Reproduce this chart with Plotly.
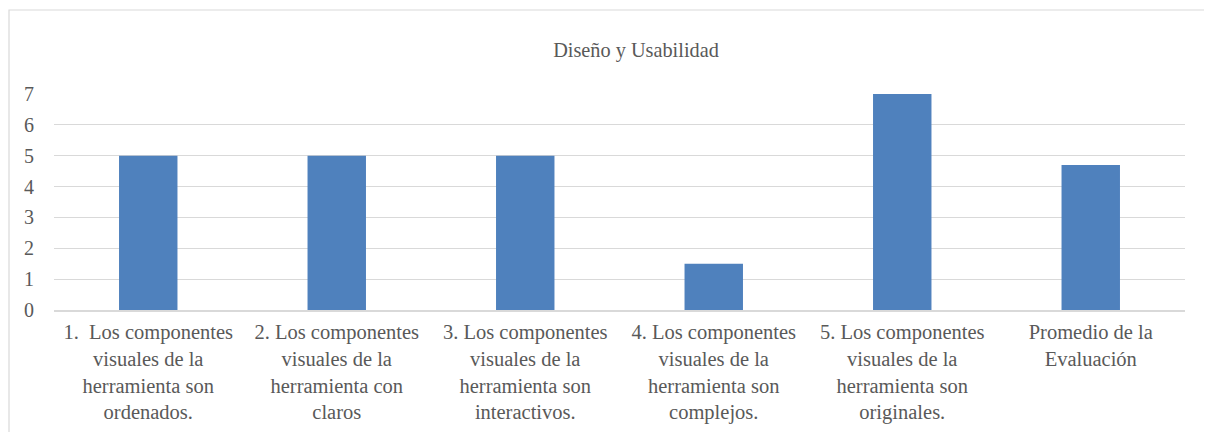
import plotly.graph_objects as go

categories = [
    "1.  Los componentes<br>visuales de la<br>herramienta son<br>ordenados.",
    "2. Los componentes<br>visuales de la<br>herramienta con<br>claros",
    "3. Los componentes<br>visuales de la<br>herramienta son<br>interactivos.",
    "4. Los componentes<br>visuales de la<br>herramienta son<br>complejos.",
    "5. Los componentes<br>visuales de la<br>herramienta son<br>originales.",
    "Promedio de la<br>Evaluación",
]
values = [5, 5, 5, 1.5, 7, 4.7]

# page body has an 8px margin, so the figure is offset by (8, 8)
OFF = 8
W, H = 1212, 432
L, R, T, B = 54 - OFF, 27 + OFF, 94 - OFF, 122 + OFF
pw, ph = W - L - R, H - T - B

fig = go.Figure(go.Bar(
    x=categories, y=values,
    marker=dict(color="#4f81bd", line=dict(width=0)),
))

# outer chart border (top and left edges visible)
fig.add_shape(type="rect", xref="paper", yref="paper",
              x0=(1 - L) / pw, x1=(W + 20 - L) / pw,
              y0=-(H + 20 - T - ph) / ph, y1=1 + (T - (10 - OFF)) / ph,
              line=dict(color="#d9d9d9", width=1.2))

serif = "Tinos, Nimbus Roman, FreeSerif, DejaVu Serif"
fig.update_layout(
    width=W, height=H,
    margin=dict(l=L, r=R, t=T, b=B),
    paper_bgcolor="white", plot_bgcolor="white",
    font=dict(family=serif, size=20, color="#595959"),
    title=dict(text="Diseño y Usabilidad", x=(636 - OFF) / W, xanchor="center",
               y=1 - (50 - OFF) / H, yanchor="middle",
               font=dict(family=serif, size=20.3, color="#595959")),
    bargap=0.69,
    showlegend=False,
)
fig.update_xaxes(showline=True, linecolor="#d9d9d9", linewidth=1.5, ticks="",
                 tickangle=0, showgrid=False, ticklabelstandoff=3,
                 tickfont=dict(family=serif, size=20.5))
fig.update_yaxes(range=[0, 7], dtick=1, showgrid=True, gridcolor="#d9d9d9",
                 gridwidth=1.2, zeroline=False, ticks="", ticklabelstandoff=19,
                 tickfont=dict(family=serif, size=20))

fig.write_html("out.html")
